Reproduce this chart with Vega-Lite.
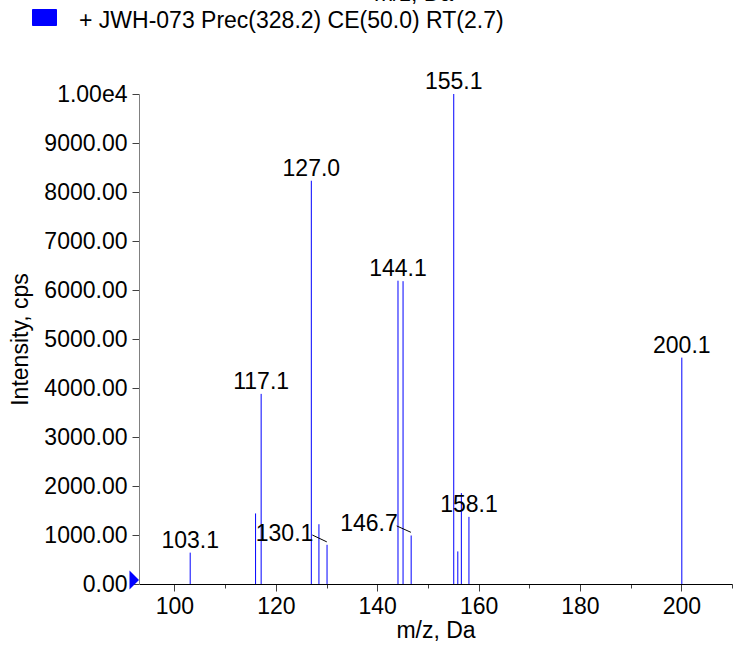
{
  "$schema": "https://vega.github.io/schema/vega-lite/v6.json",
  "width": 593,
  "height": 490,
  "autosize": {"type": "none"},
  "padding": {"left": 139, "top": 94, "right": 21, "bottom": 67},
  "background": "white",
  "config": {
    "font": "Liberation Sans",
    "view": {"stroke": null},
    "axis": {"grid": false, "labelColor": "black", "titleColor": "black", "titleFontWeight": "normal", "labelFontSize": 23, "titleFontSize": 23, "labelFont": "Liberation Sans", "titleFont": "Liberation Sans"}
  },
  "title": {"text": "m/z, Da", "frame": "group", "anchor": "middle", "offset": 0, "dy": 0, "dx": -22, "fontSize": 23, "fontWeight": "normal", "color": "black", "font": "Liberation Sans"},
  "datasets": {
    "peaks": [
      {"mz": 103.1, "intensity": 640, "label": "103.1", "series": "+ JWH-073 Prec(328.2) CE(50.0) RT(2.7)"},
      {"mz": 116.0, "intensity": 1440, "series": "+ JWH-073 Prec(328.2) CE(50.0) RT(2.7)"},
      {"mz": 117.1, "intensity": 3880, "label": "117.1", "series": "+ JWH-073 Prec(328.2) CE(50.0) RT(2.7)"},
      {"mz": 127.0, "intensity": 8230, "label": "127.0", "series": "+ JWH-073 Prec(328.2) CE(50.0) RT(2.7)"},
      {"mz": 128.5, "intensity": 1220, "series": "+ JWH-073 Prec(328.2) CE(50.0) RT(2.7)"},
      {"mz": 130.1, "intensity": 800, "series": "+ JWH-073 Prec(328.2) CE(50.0) RT(2.7)"},
      {"mz": 144.1, "intensity": 6190, "label": "144.1", "series": "+ JWH-073 Prec(328.2) CE(50.0) RT(2.7)"},
      {"mz": 145.1, "intensity": 6180, "series": "+ JWH-073 Prec(328.2) CE(50.0) RT(2.7)"},
      {"mz": 146.7, "intensity": 990, "series": "+ JWH-073 Prec(328.2) CE(50.0) RT(2.7)"},
      {"mz": 155.1, "intensity": 10000, "label": "155.1", "series": "+ JWH-073 Prec(328.2) CE(50.0) RT(2.7)"},
      {"mz": 155.9, "intensity": 665, "series": "+ JWH-073 Prec(328.2) CE(50.0) RT(2.7)"},
      {"mz": 156.6, "intensity": 1855, "series": "+ JWH-073 Prec(328.2) CE(50.0) RT(2.7)"},
      {"mz": 158.1, "intensity": 1370, "label": "158.1", "series": "+ JWH-073 Prec(328.2) CE(50.0) RT(2.7)"},
      {"mz": 200.1, "intensity": 4620, "label": "200.1", "series": "+ JWH-073 Prec(328.2) CE(50.0) RT(2.7)"}
    ],
    "leaders": [
      {"label": "130.1", "mz_start": 127.2, "int_start": 1000, "mz_end": 130.05, "int_end": 860},
      {"label": "146.7", "mz_start": 143.85, "int_start": 1185, "mz_end": 146.65, "int_end": 1055}
    ],
    "origin": [
      {"mz": 93, "intensity": 0}
    ]
  },
  "layer": [
    {
      "data": {"name": "peaks"},
      "mark": {"type": "rule", "strokeWidth": 1},
      "encoding": {
        "x": {
          "field": "mz", "type": "quantitative",
          "scale": {"domain": [93, 210], "nice": false, "zero": false},
          "axis": {
            "title": "m/z, Da",
            "values": [100, 110, 120, 130, 140, 150, 160, 170, 180, 190, 200, 210],
            "labelExpr": "datum.value % 20 == 0 ? format(datum.value, 'd') : ''",
            "tickSize": {"condition": {"test": "datum.value % 20 == 0", "value": 7}, "value": 4},
            "tickColor": "#404040",
            "domainColor": "black",
            "labelPadding": 4,
            "titlePadding": 1,
            "labelFlush": false,
            "labelOverlap": false
          }
        },
        "y": {
          "field": "intensity", "type": "quantitative",
          "scale": {"domain": [0, 10000], "nice": false},
          "axis": {
            "title": "Intensity, cps",
            "values": [0, 500, 1000, 1500, 2000, 2500, 3000, 3500, 4000, 4500, 5000, 5500, 6000, 6500, 7000, 7500, 8000, 8500, 9000, 9500, 10000],
            "labelExpr": "datum.value % 1000 != 0 ? '' : (datum.value == 10000 ? '1.00e4' : format(datum.value, '.2f'))",
            "tickSize": {"condition": {"test": "datum.value % 1000 == 0", "value": 7}, "value": 3.5},
            "tickColor": "#404040",
            "domainColor": "#808080",
            "labelPadding": 5,
            "titlePadding": 11,
            "labelFlush": false,
            "labelOverlap": false
          }
        },
        "y2": {"datum": 0},
        "color": {
          "field": "series", "type": "nominal",
          "scale": {"range": ["#0000FF"]},
          "legend": {
            "orient": "none", "legendX": -106, "legendY": -88, "title": null,
            "padding": 0,
            "symbolType": "M-1.5,-1H1.5V1H-1.5Z", "symbolSize": 256,
            "labelFontSize": 23, "labelColor": "black", "labelOffset": 23, "labelFont": "Liberation Sans",
            "labelLimit": 0,
            "encode": {
              "symbols": {"update": {"fill": {"value": "#0000FF"}, "stroke": {"value": "#202020"}, "strokeWidth": {"value": 1}, "opacity": {"value": 1}}},
              "labels": {"update": {"dy": {"value": 3}}}
            }
          }
        }
      }
    },
    {
      "data": {"name": "peaks"},
      "transform": [{"filter": "datum.label != null"}],
      "mark": {"type": "text", "baseline": "alphabetic", "align": "center", "dy": -5, "fontSize": 23, "color": "black", "font": "Liberation Sans"},
      "encoding": {
        "x": {"field": "mz", "type": "quantitative"},
        "y": {"field": "intensity", "type": "quantitative"},
        "text": {"field": "label"}
      }
    },
    {
      "data": {"name": "leaders"},
      "mark": {"type": "rule", "color": "black", "strokeWidth": 1},
      "encoding": {
        "x": {"field": "mz_start", "type": "quantitative"},
        "y": {"field": "int_start", "type": "quantitative"},
        "x2": {"field": "mz_end"},
        "y2": {"field": "int_end"}
      }
    },
    {
      "data": {"name": "leaders"},
      "mark": {"type": "text", "baseline": "middle", "align": "right", "dx": 1, "dy": -1.5, "fontSize": 23, "color": "black", "font": "Liberation Sans"},
      "encoding": {
        "x": {"field": "mz_start", "type": "quantitative"},
        "y": {"field": "int_start", "type": "quantitative"},
        "text": {"field": "label"}
      }
    },
    {
      "data": {"name": "origin"},
      "mark": {"type": "point", "shape": "M-1,-2L1,0L-1,2Z", "size": 90, "filled": true, "color": "#0000FF", "opacity": 1, "xOffset": -4.75, "yOffset": -4, "clip": false},
      "encoding": {
        "x": {"field": "mz", "type": "quantitative"},
        "y": {"field": "intensity", "type": "quantitative"}
      }
    }
  ]
}
